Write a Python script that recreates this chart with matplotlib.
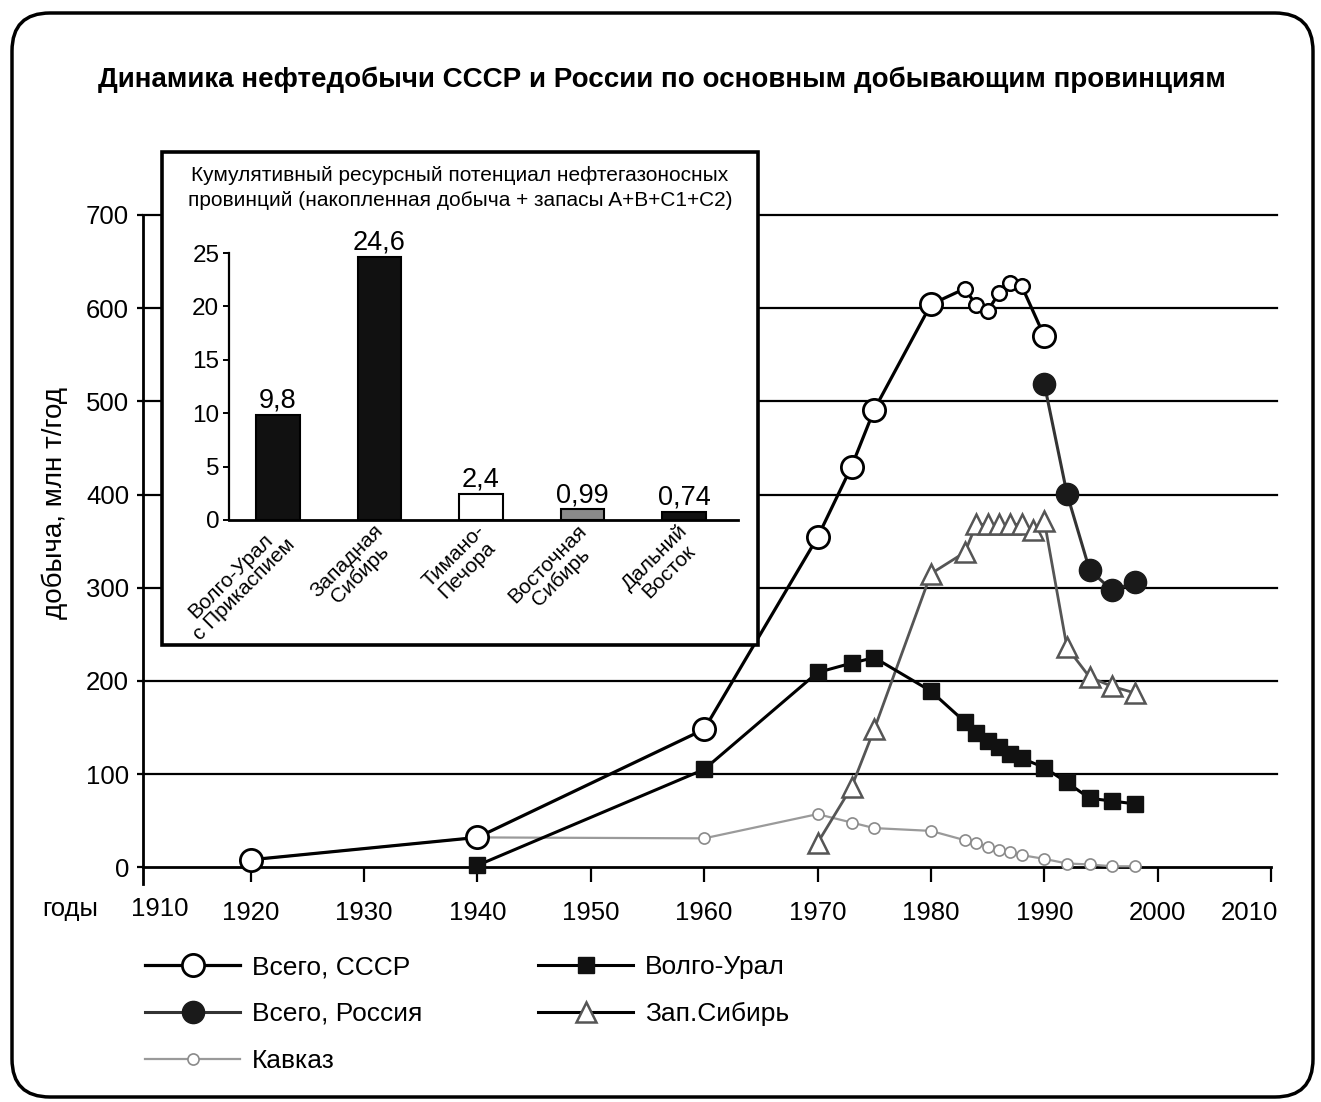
import matplotlib
matplotlib.use('Agg')
import matplotlib.pyplot as plt
from matplotlib.patches import Rectangle, FancyBboxPatch
from matplotlib.lines import Line2D
from matplotlib.transforms import IdentityTransform, ScaledTranslation

plt.rcParams['font.family'] = ['Liberation Sans', 'DejaVu Sans']

# ---------------- data ----------------
ussr_years = [1920, 1940, 1960, 1970, 1973, 1975, 1980, 1983, 1984, 1985, 1986, 1987, 1988, 1990]
ussr_vals = [8, 32, 148, 354, 430, 491, 604, 621, 603, 597, 616, 627, 624, 570]
ussr_small_years = [1983, 1984, 1985, 1986, 1987, 1988]

russia_years = [1990, 1992, 1994, 1996, 1998]
russia_vals = [519, 401, 319, 297, 306]

vu_years = [1940, 1960, 1970, 1973, 1975, 1980, 1983, 1984, 1985, 1986, 1987, 1988,
            1990, 1992, 1994, 1996, 1998]
vu_vals = [2, 105, 209, 219, 225, 189, 156, 144, 136, 129, 122, 117, 107, 91, 74, 71, 68]

ws_years = [1970, 1973, 1975, 1980, 1983, 1984, 1985, 1986, 1987, 1988, 1989, 1990,
            1992, 1994, 1996, 1998]
ws_vals = [26, 86, 148, 315, 338, 368, 368, 368, 368, 368, 362, 372, 236, 204, 194, 187]

kav_years = [1920, 1940, 1960, 1970, 1973, 1975, 1980, 1983, 1984, 1985, 1986, 1987,
             1988, 1990, 1992, 1994, 1996, 1998]
kav_vals = [8, 32, 31, 57, 48, 42, 39, 29, 26, 22, 19, 16, 13, 9, 4, 3, 1, 1]

x_ticks = [1920, 1930, 1940, 1950, 1960, 1970, 1980, 1990, 2000, 2010]
y_ticks = [0, 100, 200, 300, 400, 500, 600, 700]

prov_names = ['Волго-Урал\nс Прикаспием', 'Западная\nСибирь', 'Тимано-\nПечора',
              'Восточная\nСибирь', 'Дальний\nВосток']
prov_vals = [9.8, 24.6, 2.4, 0.99, 0.74]
prov_colors = ['#111111', '#111111', 'white', '#8a8a8a', '#111111']
inset_ticks = [0, 5, 10, 15, 20, 25]

title = 'Динамика нефтедобычи СССР и России по основным добывающим провинциям'
inset_title1 = 'Кумулятивный ресурсный потенциал нефтегазоносных'
inset_title2 = 'провинций (накопленная добыча + запасы A+B+C1+C2)'

# ---------------- layout helpers ----------------
W, H = 1321, 1102
fig = plt.figure(figsize=(W / 100, H / 100), dpi=100)
fig.patch.set_facecolor('white')


def fx(px):
    return px / W


def fy(py):
    return 1 - py / H


# ---------------- main axes ----------------
x0, x1 = 143, 1271
ytop, ybot = 215, 884
ax = fig.add_axes([fx(x0), fy(ybot), fx(x1) - fx(x0), fy(ytop) - fy(ybot)])
ax.set_xlim(1910.5, 2010)
ax.set_ylim(-18, 700)
ax.patch.set_visible(False)
for s in ['top', 'right']:
    ax.spines[s].set_visible(False)
ax.spines['bottom'].set_position(('data', 0))
ax.spines['bottom'].set_linewidth(2.0)
ax.spines['left'].set_linewidth(2.0)
ax.spines['left'].set_bounds(-18, 700)

for v in y_ticks[1:]:
    ax.axhline(v, xmin=0, xmax=1.005, color='black', lw=1.6, clip_on=False, zorder=1)

ax.set_xticks(x_ticks)
ax.set_xticklabels([str(t) for t in x_ticks])
ax.set_yticks(y_ticks)
ax.set_yticklabels([str(t) for t in y_ticks])
ax.tick_params(axis='x', direction='out', length=11, width=1.6, pad=13, labelsize=18.5)
ax.tick_params(axis='y', direction='out', length=4, width=1.6, pad=6, labelsize=18.5)
last = ax.get_xticklabels()[-1]
last.set_transform(last.get_transform() + ScaledTranslation(-0.22, 0, fig.dpi_scale_trans))

# Kavkaz
ax.plot(kav_years, kav_vals, color='#9a9a9a', lw=1.6, marker='o', ms=8,
        mfc='white', mec='#8a8a8a', mew=1.2, zorder=3)
# West Siberia
ax.plot(ws_years, ws_vals, color='#555555', lw=2.0, marker='^', ms=15,
        mfc='white', mec='#555555', mew=1.8, zorder=4)
# Volga-Ural
ax.plot(vu_years, vu_vals, color='black', lw=2.2, marker='s', ms=11,
        mfc='#111111', mec='#111111', zorder=5)
# Total USSR
ax.plot(ussr_years, ussr_vals, color='black', lw=2.3, zorder=6)
big_x = [x for x in ussr_years if x not in ussr_small_years]
big_y = [v for x, v in zip(ussr_years, ussr_vals) if x not in ussr_small_years]
sm_x = [x for x in ussr_years if x in ussr_small_years]
sm_y = [v for x, v in zip(ussr_years, ussr_vals) if x in ussr_small_years]
ax.plot(big_x, big_y, 'o', ms=16, mfc='white', mec='black', mew=2.0, zorder=7)
ax.plot(sm_x, sm_y, 'o', ms=10.5, mfc='white', mec='black', mew=1.8, zorder=7)
# Total Russia
ax.plot(russia_years, russia_vals, color='#333333', lw=2.2, marker='o', ms=16,
        mfc='#1a1a1a', mec='#1a1a1a', zorder=8)

# axis texts
fig.text(fx(160), fy(909), '1910', fontsize=18.5, ha='center', va='center')
fig.text(fx(70), fy(909), 'годы', fontsize=18.5, ha='center', va='center')
fig.text(fx(55), fy(503), 'добыча, млн т/год', fontsize=20, rotation=90,
         ha='center', va='center')
fig.text(fx(662), fy(80), title, fontsize=20, fontweight='bold', ha='center', va='center')

# ---------------- inset ----------------
fig.add_artist(Rectangle((fx(162), fy(645)), fx(758) - fx(162), fy(152) - fy(645),
                         transform=fig.transFigure, facecolor='white',
                         edgecolor='black', lw=2.6, zorder=2))
iax = fig.add_axes([fx(229), fy(520), fx(738) - fx(229), fy(253) - fy(520)])
iax.set_zorder(3)
iax.patch.set_visible(False)
iax.set_xlim(-0.48, 4.53)
iax.set_ylim(0, 25)
for s in ['top', 'right']:
    iax.spines[s].set_visible(False)
iax.spines['left'].set_linewidth(1.6)
iax.spines['bottom'].set_linewidth(2.0)
iax.bar(range(len(prov_vals)), prov_vals, width=0.43, color=prov_colors,
        edgecolor='black', lw=1.5)
for i, v in enumerate(prov_vals):
    iax.annotate(f'{v:g}'.replace('.', ','), xy=(i, v), xytext=(0, 1),
                 textcoords='offset points', ha='center', va='bottom', fontsize=19.5)
iax.set_yticks(inset_ticks)
iax.set_yticklabels([str(t) for t in inset_ticks])
iax.tick_params(axis='y', direction='out', length=4, width=1.4, pad=3, labelsize=17.5)
iax.set_xticks([])
for i, name in enumerate(prov_names):
    iax.annotate(name, xy=(i, 0), xycoords=('data', 'axes fraction'),
                 xytext=(15, -1), textcoords='offset points', rotation=45,
                 ha='right', va='top', multialignment='center', fontsize=15,
                 linespacing=1.0)
fig.text(fx(460), fy(176), inset_title1, fontsize=15, ha='center', va='center', zorder=4)
fig.text(fx(460), fy(200), inset_title2, fontsize=15, ha='center', va='center', zorder=4)

# ---------------- legend ----------------
handles = [
    Line2D([], [], color='black', lw=2.3, marker='o', ms=16, mfc='white', mec='black', mew=2.0),
    Line2D([], [], color='#333333', lw=2.2, marker='o', ms=16, mfc='#1a1a1a', mec='#1a1a1a'),
    Line2D([], [], color='#9a9a9a', lw=1.6, marker='o', ms=8, mfc='white', mec='#8a8a8a', mew=1.2),
    Line2D([], [], color='black', lw=2.2, marker='s', ms=11, mfc='#111111', mec='#111111'),
    Line2D([], [], color='black', lw=2.2, marker='^', ms=15, mfc='white', mec='#555555', mew=1.8),
]
labels = ['Всего, СССР', 'Всего, Россия', 'Кавказ', 'Волго-Урал', 'Зап.Сибирь']
fig.legend(handles, labels, ncol=2, loc='upper left', bbox_to_anchor=(fx(145), fy(955)),
           frameon=False, fontsize=19, handlelength=3.6, handletextpad=0.45,
           labelspacing=0.87, columnspacing=4.4, borderpad=0, borderaxespad=0)

# ---------------- outer rounded frame ----------------
fig.add_artist(FancyBboxPatch((12, 5), 1301, 1084,
                              boxstyle='round,pad=0,rounding_size=38',
                              transform=IdentityTransform(), facecolor='none',
                              edgecolor='black', lw=2.5, zorder=10))

fig.savefig('out.png', dpi=100)
